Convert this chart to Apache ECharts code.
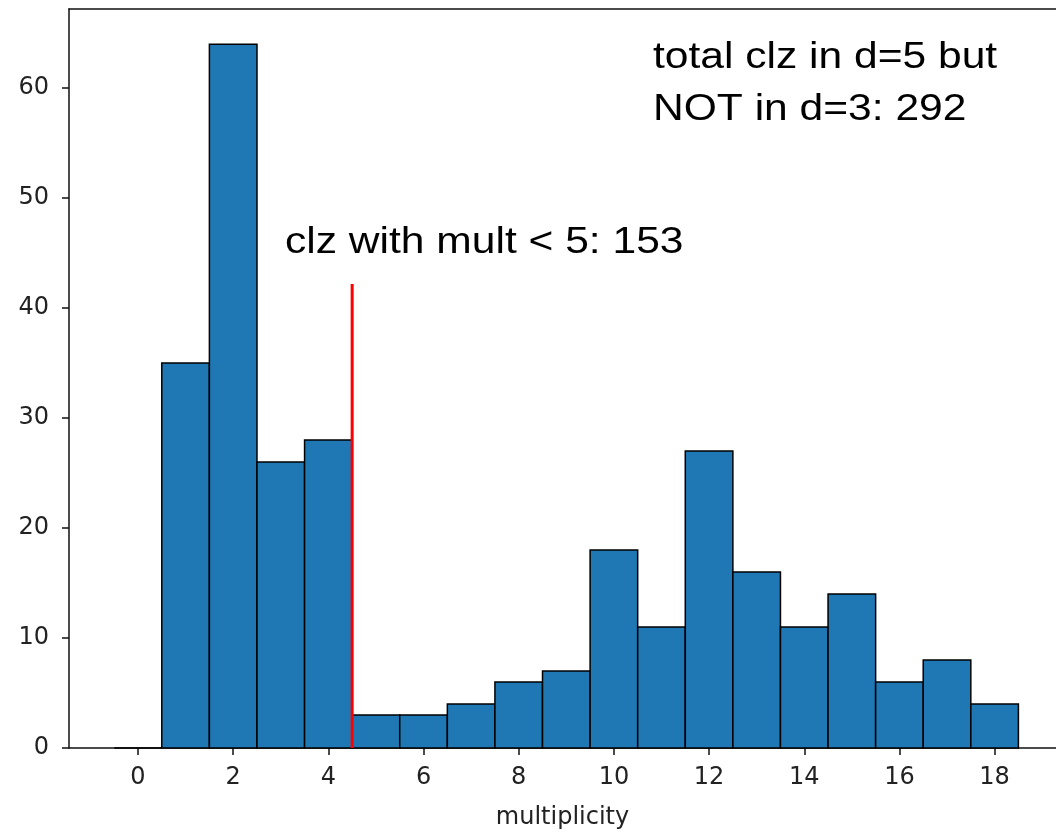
<!DOCTYPE html>
<html>
<head>
<meta charset="utf-8">
<script src="https://cdn.jsdelivr.net/npm/echarts@6/dist/echarts.min.js"></script>
<style>html,body{margin:0;padding:0;background:#fff;}#c{width:1056px;height:835px;}</style>
</head>
<body>
<div id="c"></div>
<script>
// Data
const multiplicity = [0,1,2,3,4,5,6,7,8,9,10,11,12,13,14,15,16,17,18];
const counts =       [0,35,64,26,28,3,3,4,6,7,18,11,27,16,11,14,6,8,4];
const xTicks = [0,2,4,6,8,10,12,14,16,18];
const yTicks = [0,10,20,30,40,50,60];
const cutLine = [[4.5,0],[4.5,42.2]];
const noteLeft = 'clz with mult < 5: 153';
const noteRight = ['total clz in d=5 but', 'NOT in d=3: 292'];

const chart = echarts.init(document.getElementById('c'), null, {renderer:'canvas'});
const tickFont = {fontFamily:'DejaVu Sans', fontSize:24, color:'#222'};
const textStyleBase = {fontFamily:'Liberation Sans', fontSize:37, fill:'#000', textVerticalAlign:'middle'};
const X_MIN = -1.45, X_MAX = 19.29;

chart.setOption({
  animation:false,
  backgroundColor:'#fff',
  grid:{left:69, top:9, bottom:87, right:0},
  xAxis:[{
    type:'value', min:X_MIN, max:X_MAX,
    axisLine:{show:true, onZero:false, lineStyle:{color:'#111', width:1.5}},
    axisTick:{show:true, length:7, lineStyle:{color:'#111', width:1.5}, customValues:xTicks},
    axisLabel:{margin:18, customValues:xTicks, ...tickFont},
    splitLine:{show:false},
    name:'multiplicity', nameLocation:'middle', nameGap:58,
    nameTextStyle:{fontFamily:'DejaVu Sans', fontSize:24, color:'#222'}
  },{
    type:'value', position:'top', min:X_MIN, max:X_MAX,
    axisLine:{show:true, onZero:false, lineStyle:{color:'#111', width:1.5}},
    axisTick:{show:false}, axisLabel:{show:false}, splitLine:{show:false}
  }],
  yAxis:{
    type:'value', min:0, max:67.2,
    axisLine:{show:true, onZero:false, lineStyle:{color:'#111', width:1.5}},
    axisTick:{show:true, length:7, lineStyle:{color:'#111', width:1.5}, customValues:yTicks},
    axisLabel:{margin:20, customValues:yTicks, ...tickFont},
    splitLine:{show:false}
  },
  series:[{
    type:'custom',
    data: multiplicity.map((m,i)=>[m, counts[i]]),
    encode:{x:0, y:1},
    renderItem:function(params, api){
      const x = api.value(0), y = api.value(1);
      const p0 = api.coord([x-0.5, y]);
      const p1 = api.coord([x+0.5, 0]);
      return {type:'rect', shape:{x:p0[0], y:p0[1], width:p1[0]-p0[0], height:p1[1]-p0[1]},
        style:{fill:'#1f77b4', stroke:'#000', lineWidth:1.5}};
    },
    z:2
  },{
    type:'line', data:cutLine, showSymbol:false, symbol:'none',
    lineStyle:{color:'#ff0000', width:3}, z:3
  }],
  graphic:[
    {type:'text', x:285, y:243, scaleX:1.15, style:{text:noteLeft, x:0, y:0, ...textStyleBase}},
    {type:'text', x:653, y:58, scaleX:1.15, style:{text:noteRight[0], x:0, y:0, ...textStyleBase}},
    {type:'text', x:653, y:110, scaleX:1.15, style:{text:noteRight[1], x:0, y:0, ...textStyleBase}}
  ]
});
</script>
</body>
</html>
